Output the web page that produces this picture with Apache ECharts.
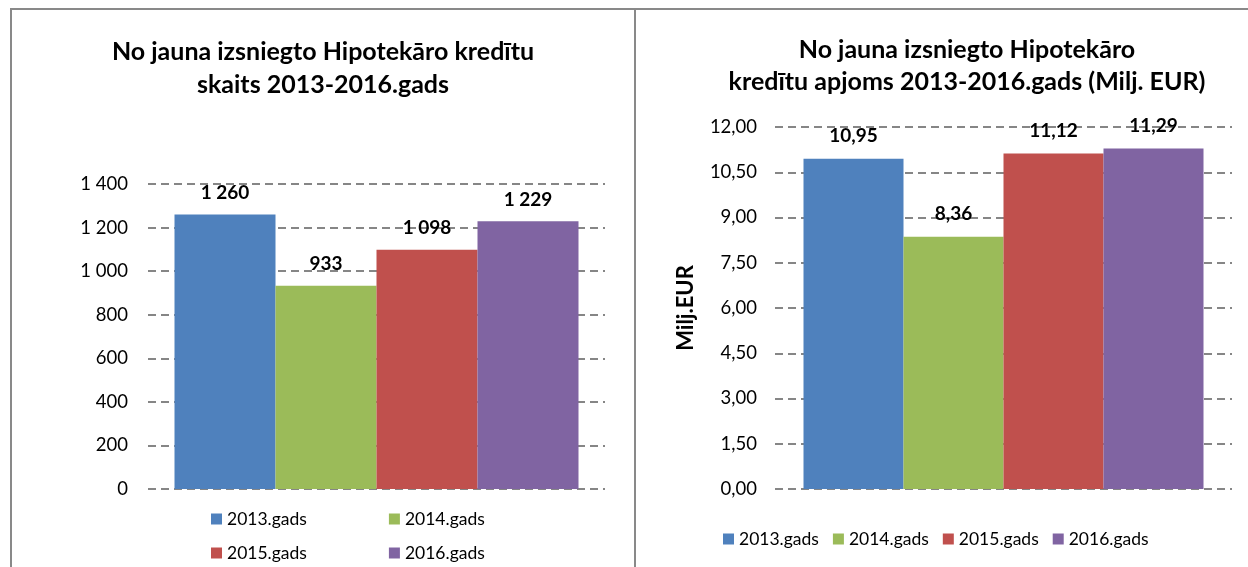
<!DOCTYPE html>
<html>
<head>
<meta charset="utf-8">
<script src="https://cdn.jsdelivr.net/npm/echarts@6/dist/echarts.min.js"></script>
<style>
  html, body { margin: 0; padding: 0; background: #fff; }
  #chart { position: absolute; left: 0; top: 0; width: 1248px; height: 567px; }
  .frame { position: absolute; background: #898989; }
</style>
</head>
<body>
<div id="chart"></div>
<div class="frame" style="left:10px; top:8px; width:1238px; height:2px;"></div>
<div class="frame" style="left:10px; top:8px; width:2px; height:559px;"></div>
<div class="frame" style="left:634px; top:8px; width:2px; height:559px;"></div>
<script>
// dati nolasīti no attēla
const years = ["2013.gads", "2014.gads", "2015.gads", "2016.gads"]
const countValues = [1260, 933, 1098, 1229]
const volumeValues = [10.95, 8.36, 11.12, 11.29]
const colors = ["#4F81BD", "#9BBB59", "#C0504D", "#8064A2"]

const font = "Lato"
const splitStyle = { type: [8, 5], color: "#868686", width: 2 }

const fmtSpace = v => String(Math.round(v)).replace(/\B(?=(\d{3})+(?!\d))/g, " ")
const fmtComma = v => v.toFixed(2).replace(".", ",")

const chart = echarts.init(document.getElementById("chart"))

const labelStyle = { show: true, position: "top", fontFamily: font, fontWeight: "bold", fontSize: 19, color: "#000" }

const series = []
years.forEach((y, i) => {
    series.push({
        name: y,
        type: "bar",
        xAxisIndex: 0,
        yAxisIndex: 0,
        data: [countValues[i]],
        barWidth: 101,
        barGap: "0%",
        itemStyle: { color: colors[i] },
        label: Object.assign({}, labelStyle, { distance: 12, formatter: p => fmtSpace(p.value) }),
    })
})
years.forEach((y, i) => {
    series.push({
        name: y,
        type: "bar",
        xAxisIndex: 1,
        yAxisIndex: 1,
        data: [volumeValues[i]],
        barWidth: 100,
        barGap: "0%",
        itemStyle: { color: colors[i] },
        label: Object.assign({}, labelStyle, { distance: 13, formatter: p => fmtComma(p.value) }),
    })
})

const titleStyle = { fontFamily: font, fontWeight: "bold", fontSize: 25, color: "#000", lineHeight: 33 }
const legendText = { fontFamily: font, fontSize: 17.5, color: "#000" }

chart.setOption({
    animation: false,
    title: [
        { text: "No jauna izsniegto Hipotekāro kredītu\nskaits 2013-2016.gads", left: 318, top: 30, textAlign: "center", textStyle: titleStyle },
        { text: "No jauna izsniegto Hipotekāro\nkredītu apjoms 2013-2016.gads (Milj. EUR)", left: 962, top: 29, textAlign: "center", textStyle: Object.assign({}, titleStyle, { lineHeight: 32 }) },
    ],
    legend: [
        { data: years.slice(0, 2), left: 206, top: 505, itemWidth: 11, itemHeight: 11, itemGap: 82, textStyle: legendText, icon: "rect" },
        { data: years.slice(2, 4), left: 206, top: 539, itemWidth: 11, itemHeight: 11, itemGap: 82, textStyle: legendText, icon: "rect" },
        { data: years, left: 718, top: 525, itemWidth: 11, itemHeight: 11, itemGap: 14, textStyle: legendText, icon: "rect" },
    ],
    grid: [
        { left: 148, right: 643, top: 184, bottom: 78 },
        { left: 775, right: 16, top: 127, bottom: 78 },
    ],
    xAxis: [
        { type: "category", gridIndex: 0, data: [""], axisLine: { show: false }, axisTick: { show: false }, axisLabel: { show: false } },
        { type: "category", gridIndex: 1, data: [""], axisLine: { show: false }, axisTick: { show: false }, axisLabel: { show: false } },
    ],
    yAxis: [
        {
            type: "value", gridIndex: 0, min: 0, max: 1400, interval: 200,
            axisLine: { show: false }, axisTick: { show: false },
            axisLabel: { fontFamily: font, fontSize: 18.5, color: "#000", margin: 20, formatter: fmtSpace },
            splitLine: { lineStyle: splitStyle },
        },
        {
            type: "value", gridIndex: 1, min: 0, max: 12, interval: 1.5,
            name: "Milj.EUR", nameLocation: "middle", nameGap: 78, nameRotate: 90,
            nameTextStyle: { fontFamily: font, fontWeight: "bold", fontSize: 22, color: "#000" },
            axisLine: { show: false }, axisTick: { show: false },
            axisLabel: { fontFamily: font, fontSize: 18.5, color: "#000", margin: 18, formatter: fmtComma },
            splitLine: { lineStyle: splitStyle },
        },
    ],
    series: series,
})
</script>
</body>
</html>
